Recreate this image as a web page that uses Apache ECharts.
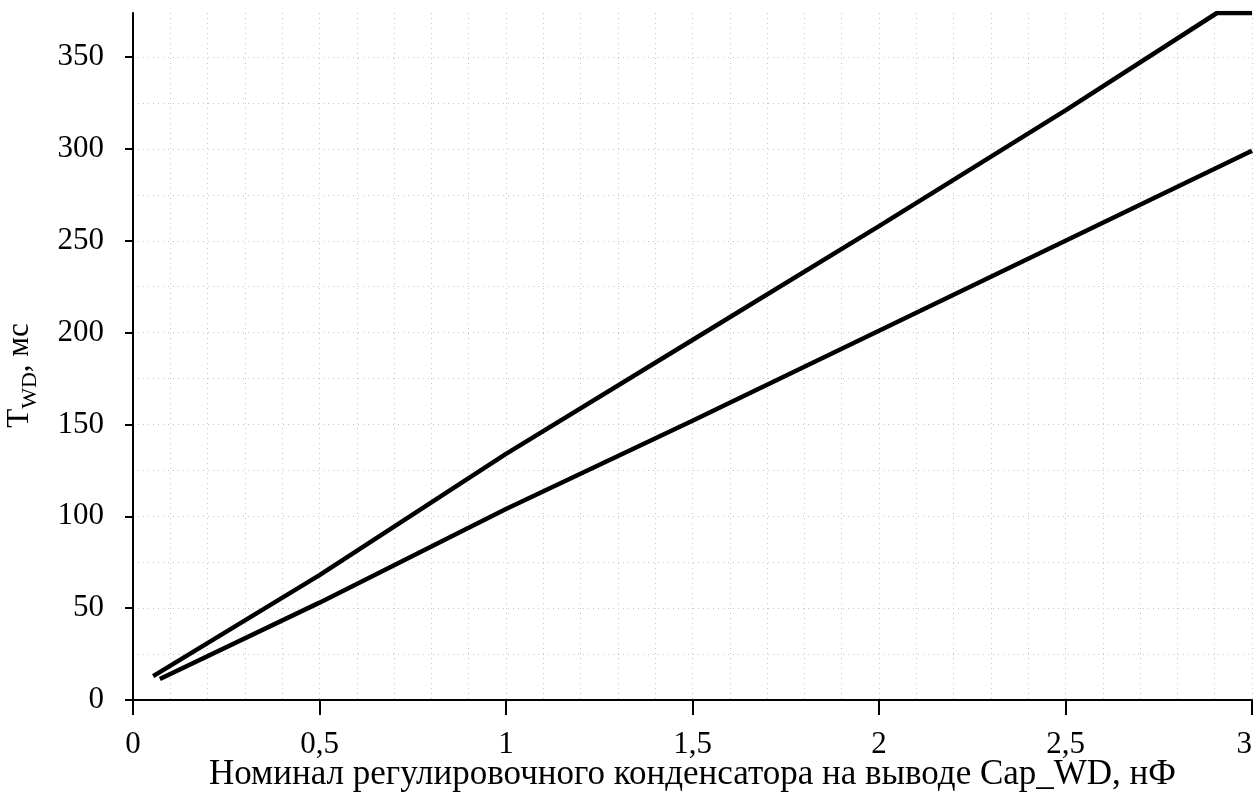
<!DOCTYPE html>
<html>
<head>
<meta charset="utf-8">
<script src="https://cdn.jsdelivr.net/npm/echarts@6/dist/echarts.min.js"></script>
<style>
  html, body { margin: 0; padding: 0; background: #fff; }
  #chart { width: 1254px; height: 793px; }
</style>
</head>
<body>
<div id="chart"></div>
<script>
// верхняя кривая (x в нФ, y в мс)
const upperX = [0.054, 0.5, 1, 1.5, 2, 2.5, 2.906, 3];
const upperY = [13, 68, 134, 196, 258, 321, 374, 374];
// нижняя кривая
const lowerX = [0.072, 0.5, 1, 1.5, 2, 2.5, 3];
const lowerY = [11.4, 53, 104, 152, 201, 250, 299];
// подписи осей
const yTicks = [0, 50, 100, 150, 200, 250, 300, 350];
const xTitle = 'Номинал регулировочного конденсатора на выводе Cap_WD, нФ';

const FONT = "'Liberation Serif', 'Times New Roman', serif";

function toPoints(xs, ys) {
    let pts = [];
    for (let i = 0; i < xs.length; i++) {
        pts.push([xs[i], ys[i]]);
    }
    return pts;
}

const gridStyle = {
    show: true,
    lineStyle: { color: '#c4c4c4', type: [1, 4], width: 1 }
};

let chart = echarts.init(document.getElementById('chart'));
let option = {
    backgroundColor: '#fff',
    animation: false,
    grid: { left: 133, right: 2, top: 13, bottom: 93, containLabel: false, outerBoundsMode: 'none' },
    xAxis: {
        type: 'value',
        min: 0,
        max: 3,
        interval: 0.5,
        name: xTitle,
        nameLocation: 'middle',
        nameGap: 57,
        nameMoveOverlap: false,
        nameTextStyle: { fontFamily: FONT, fontSize: 35, color: '#000' },
        axisLine: { show: true, lineStyle: { color: '#000', width: 2 } },
        axisTick: { show: true, length: 15, lineStyle: { color: '#000', width: 2 } },
        axisLabel: {
            margin: 29,
            fontFamily: FONT,
            fontSize: 31,
            color: '#000',
            alignMaxLabel: 'right',
            formatter: function (v) { return String(v).replace('.', ','); }
        },
        splitLine: gridStyle,
        minorTick: { show: false, splitNumber: 5 },
        minorSplitLine: gridStyle
    },
    yAxis: {
        type: 'value',
        min: 0,
        max: 374,
        interval: 50,
        name: '{a|T}{b|WD}{a|, мс}',
        nameLocation: 'middle',
        nameRotate: 90,
        nameGap: 92,
        nameMoveOverlap: false,
        nameTextStyle: {
            fontFamily: FONT,
            color: '#000',
            padding: [0, 38, 0, 0],
            rich: {
                a: { fontFamily: FONT, fontSize: 31, color: '#000', verticalAlign: 'bottom', padding: [0, 0, 6, 0] },
                b: { fontFamily: FONT, fontSize: 22, color: '#000', verticalAlign: 'bottom' }
            }
        },
        axisLine: { show: true, lineStyle: { color: '#000', width: 2 } },
        axisTick: { show: true, length: 8, customValues: yTicks, lineStyle: { color: '#000', width: 2 } },
        axisLabel: {
            margin: 29,
            fontFamily: FONT,
            fontSize: 31,
            color: '#000',
            customValues: yTicks
        },
        splitLine: gridStyle,
        minorTick: { show: false, splitNumber: 2 },
        minorSplitLine: gridStyle
    },
    series: [{
        type: 'line',
        data: toPoints(upperX, upperY),
        showSymbol: false,
        symbol: 'none',
        lineStyle: { color: '#000', width: 4.5 },
        clip: true
    }, {
        type: 'line',
        data: toPoints(lowerX, lowerY),
        showSymbol: false,
        symbol: 'none',
        lineStyle: { color: '#000', width: 4.5 },
        clip: true
    }]
};
chart.setOption(option);
</script>
</body>
</html>
